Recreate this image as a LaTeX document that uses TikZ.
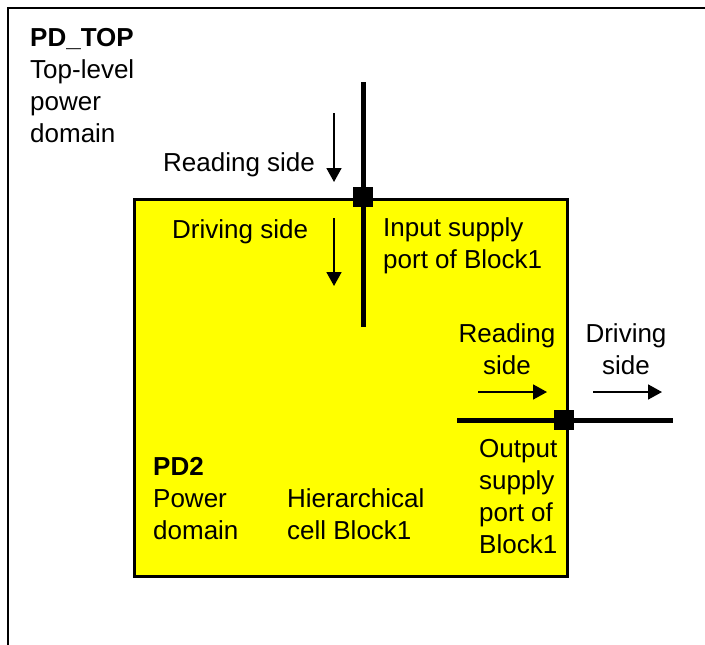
\documentclass[tikz,border=0pt]{standalone}
\usepackage{fontspec}
\setmainfont{Liberation Sans}
\usetikzlibrary{arrows.meta}
\definecolor{blockyellow}{RGB}{255,255,0}
\begin{document}
\begin{tikzpicture}[x=1pt,y=-1pt,
  lbl/.style={inner sep=0pt,align=left,font=\fontsize{26pt}{32pt}\selectfont},
  clbl/.style={inner sep=0pt,align=center,font=\fontsize{26pt}{32pt}\selectfont},
  portline/.style={line width=5pt},
  portsq/.style={fill=black,draw=none,minimum size=20pt,inner sep=0pt},
  flow/.style={line width=1.8pt,-{Triangle[width=15pt,length=14pt]}},
  frame/.style={line width=2.6pt}]
\useasboundingbox (0,0) rectangle (705,645);
% outer (top-level) domain frame, cut by the picture edges
\coordinate (fTR) at (710,8);
\coordinate (fTL) at (8,8);
\coordinate (fBL) at (8,650);
\draw[frame] (fTR) -- (fTL) -- (fBL);
% PD2 block
\node[draw=black,line width=2.6pt,fill=blockyellow,minimum width=433pt,minimum height=377pt,inner sep=0pt,anchor=north west] (blk) at (133,198) {};
% input supply port
\coordinate (inTop) at (363,82);
\coordinate (inBot) at (363,327);
\draw[portline] (inTop) -- (inBot);
\node[portsq] (inport) at (363,197) {};
% output supply port
\coordinate (outL) at (457,420);
\coordinate (outR) at (673,420);
\draw[portline] (outL) -- (outR);
\node[portsq] (outport) at (564,420) {};
% direction arrows
\coordinate (a1s) at (334,113); \coordinate (a1e) at (334,182);
\coordinate (a2s) at (334,218); \coordinate (a2e) at (334,286);
\coordinate (a3s) at (478,392); \coordinate (a3e) at (547,392);
\coordinate (a4s) at (593,392); \coordinate (a4e) at (662,392);
\draw[flow] (a1s) -- (a1e);
\draw[flow] (a2s) -- (a2e);
\draw[flow] (a3s) -- (a3e);
\draw[flow] (a4s) -- (a4e);
% texts
\node[lbl,anchor=north west] (tTop) at (30,28) {\textbf{PD\_TOP}\\Top-level\\power\\domain};
\node[lbl,anchor=north west] (tRead1) at (163,152) {Reading side};
\node[lbl,anchor=north west] (tDrive1) at (172,219) {Driving side};
\node[lbl,anchor=north west] (tIn) at (383,217) {Input supply\\port of Block1};
\node[clbl,anchor=north] (tRead2) at (507,323) {Reading\\side};
\node[clbl,anchor=north] (tDrive2) at (626,323) {Driving\\side};
\node[lbl,anchor=north west] (tOut) at (479,439) {Output\\supply\\port of\\Block1};
\node[lbl,anchor=north west] (tPD2) at (153,457) {\textbf{PD2}\\Power\\domain};
\node[lbl,anchor=north west] (tHier) at (287,488) {Hierarchical\\cell Block1};
\end{tikzpicture}
\end{document}
